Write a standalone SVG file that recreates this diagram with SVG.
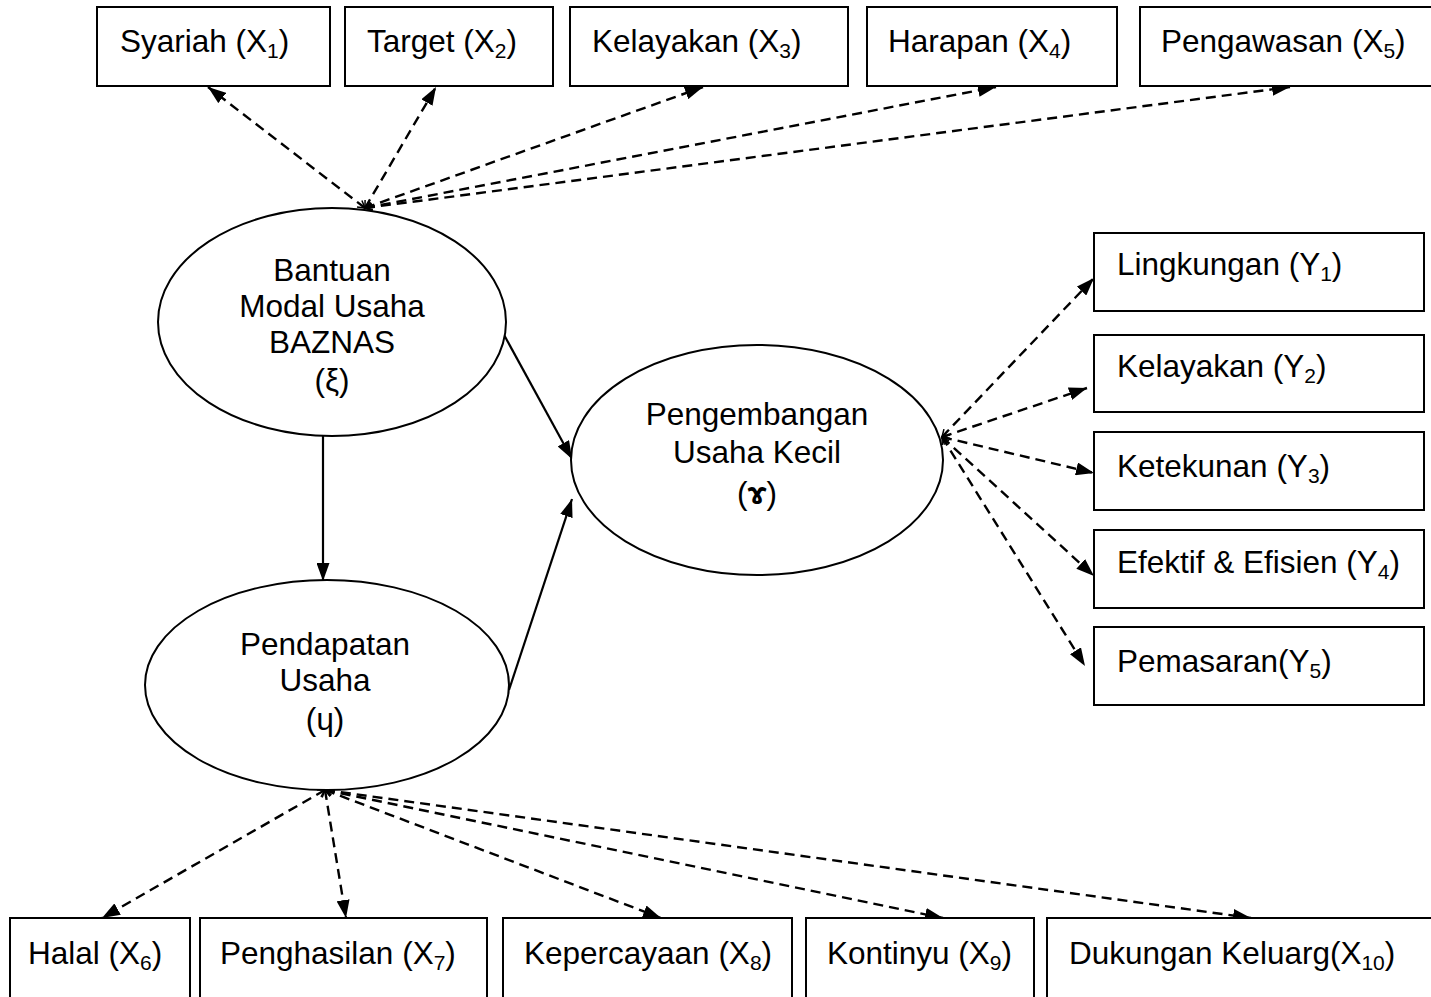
<svg xmlns="http://www.w3.org/2000/svg" width="1431" height="997" viewBox="0 0 1431 997">
<defs>
<style>
.box{fill:#fff;stroke:#000;stroke-width:2}
.ell{fill:#fff;stroke:#000;stroke-width:2}
.t{font-family:"Liberation Sans",Arial,sans-serif;font-size:31.5px;fill:#000}
.c{text-anchor:middle}
.sub{font-size:21px}
.dash{fill:none;stroke:#000;stroke-width:2.4;stroke-dasharray:10 6}
.solid{fill:none;stroke:#000;stroke-width:2.2}
</style>
<marker id="ah" viewBox="0 0 18 13" refX="18" refY="6.5" markerWidth="18" markerHeight="13" orient="auto" markerUnits="userSpaceOnUse">
<path d="M0,0 L18,6.5 L0,13 Z" fill="#000" stroke="none"/>
</marker>
<marker id="tail" viewBox="-1 -5 9 10" refX="0" refY="0" markerWidth="9" markerHeight="10" orient="auto" markerUnits="userSpaceOnUse">
<path d="M7,-4 L0,0 L7,4" fill="none" stroke="#000" stroke-width="1.5"/>
</marker>
</defs>
<rect width="1431" height="997" fill="#fff"/>

<g id="connectors">
<line class="dash" x1="365" y1="208" x2="208" y2="87" marker-start="url(#tail)" marker-end="url(#ah)"/>
<line class="dash" x1="365" y1="208" x2="436" y2="87" marker-start="url(#tail)" marker-end="url(#ah)"/>
<line class="dash" x1="365" y1="208" x2="703" y2="87" marker-start="url(#tail)" marker-end="url(#ah)"/>
<line class="dash" x1="365" y1="208" x2="996" y2="87" marker-start="url(#tail)" marker-end="url(#ah)"/>
<line class="dash" x1="365" y1="208" x2="1290" y2="87" marker-start="url(#tail)" marker-end="url(#ah)"/>

<line class="dash" x1="942" y1="437" x2="1094" y2="278" marker-start="url(#tail)" marker-end="url(#ah)"/>
<line class="dash" x1="942" y1="437" x2="1087" y2="388" marker-start="url(#tail)" marker-end="url(#ah)"/>
<line class="dash" x1="942" y1="437" x2="1094" y2="473" marker-start="url(#tail)" marker-end="url(#ah)"/>
<line class="dash" x1="942" y1="437" x2="1094" y2="576" marker-start="url(#tail)" marker-end="url(#ah)"/>
<line class="dash" x1="942" y1="437" x2="1085" y2="666" marker-start="url(#tail)" marker-end="url(#ah)"/>

<line class="solid" x1="503" y1="333" x2="572" y2="459" marker-end="url(#ah)"/>
<line class="solid" x1="323" y1="435" x2="323" y2="581" marker-end="url(#ah)"/>
<line class="solid" x1="509" y1="690" x2="572" y2="499" marker-end="url(#ah)"/>

<line class="dash" x1="325" y1="790" x2="102" y2="918" marker-start="url(#tail)" marker-end="url(#ah)"/>
<line class="dash" x1="325" y1="790" x2="346" y2="918" marker-start="url(#tail)" marker-end="url(#ah)"/>
<line class="dash" x1="325" y1="790" x2="661" y2="918" marker-start="url(#tail)" marker-end="url(#ah)"/>
<line class="dash" x1="325" y1="790" x2="943" y2="918" marker-start="url(#tail)" marker-end="url(#ah)"/>
<line class="dash" x1="325" y1="790" x2="1251" y2="918" marker-start="url(#tail)" marker-end="url(#ah)"/>
</g>

<g id="x1"><rect class="box" x="97" y="7" width="233" height="79"/><text class="t" x="120" y="52">Syariah (X<tspan class="sub" dy="6">1</tspan><tspan dy="-6">)</tspan></text></g>
<g id="x2"><rect class="box" x="345" y="7" width="208" height="79"/><text class="t" x="367" y="52">Target (X<tspan class="sub" dy="6">2</tspan><tspan dy="-6">)</tspan></text></g>
<g id="x3"><rect class="box" x="570" y="7" width="278" height="79"/><text class="t" x="592" y="52">Kelayakan (X<tspan class="sub" dy="6">3</tspan><tspan dy="-6">)</tspan></text></g>
<g id="x4"><rect class="box" x="867" y="7" width="250" height="79"/><text class="t" x="888" y="52">Harapan (X<tspan class="sub" dy="6">4</tspan><tspan dy="-6">)</tspan></text></g>
<g id="x5"><rect class="box" x="1140" y="7" width="300" height="79"/><text class="t" x="1161" y="52">Pengawasan (X<tspan class="sub" dy="6">5</tspan><tspan dy="-6">)</tspan></text></g>

<g id="bantuan"><ellipse class="ell" cx="332" cy="322" rx="174" ry="114"/>
<text class="t c" x="332" y="281">Bantuan</text>
<text class="t c" x="332" y="317">Modal Usaha</text>
<text class="t c" x="332" y="353">BAZNAS</text>
<text class="t c" x="332" y="391">(ξ)</text></g>

<g id="pengembangan"><ellipse class="ell" cx="757" cy="460" rx="186" ry="115"/>
<text class="t c" x="757" y="425">Pengembangan</text>
<text class="t c" x="757" y="463">Usaha Kecil</text>
<text class="t c" x="757" y="504">(<tspan font-weight="bold">ɤ</tspan>)</text></g>

<g id="pendapatan"><ellipse class="ell" cx="327" cy="685" rx="182" ry="105"/>
<text class="t c" x="325" y="655">Pendapatan</text>
<text class="t c" x="325" y="691">Usaha</text>
<text class="t c" x="325" y="730">(ɥ)</text></g>

<g id="y1"><rect class="box" x="1094" y="233" width="330" height="78"/><text class="t" x="1117" y="275">Lingkungan (Y<tspan class="sub" dy="6">1</tspan><tspan dy="-6">)</tspan></text></g>
<g id="y2"><rect class="box" x="1094" y="335" width="330" height="77"/><text class="t" x="1117" y="377">Kelayakan (Y<tspan class="sub" dy="6">2</tspan><tspan dy="-6">)</tspan></text></g>
<g id="y3"><rect class="box" x="1094" y="432" width="330" height="78"/><text class="t" x="1117" y="477">Ketekunan (Y<tspan class="sub" dy="6">3</tspan><tspan dy="-6">)</tspan></text></g>
<g id="y4"><rect class="box" x="1094" y="530" width="330" height="78"/><text class="t" x="1117" y="573">Efektif &amp; Efisien (Y<tspan class="sub" dy="6">4</tspan><tspan dy="-6">)</tspan></text></g>
<g id="y5"><rect class="box" x="1094" y="627" width="330" height="78"/><text class="t" x="1117" y="672">Pemasaran(Y<tspan class="sub" dy="6">5</tspan><tspan dy="-6">)</tspan></text></g>

<g id="x6"><rect class="box" x="10" y="918" width="180" height="90"/><text class="t" x="28" y="964">Halal (X<tspan class="sub" dy="6">6</tspan><tspan dy="-6">)</tspan></text></g>
<g id="x7"><rect class="box" x="200" y="918" width="287" height="90"/><text class="t" x="220" y="964">Penghasilan (X<tspan class="sub" dy="6">7</tspan><tspan dy="-6">)</tspan></text></g>
<g id="x8"><rect class="box" x="503" y="918" width="289" height="90"/><text class="t" x="524" y="964">Kepercayaan (X<tspan class="sub" dy="6">8</tspan><tspan dy="-6">)</tspan></text></g>
<g id="x9"><rect class="box" x="806" y="918" width="228" height="90"/><text class="t" x="827" y="964">Kontinyu (X<tspan class="sub" dy="6">9</tspan><tspan dy="-6">)</tspan></text></g>
<g id="x10"><rect class="box" x="1047" y="918" width="400" height="90"/><text class="t" x="1069" y="964">Dukungan Keluarg(X<tspan class="sub" dy="6">10</tspan><tspan dy="-6">)</tspan></text></g>
</svg>
